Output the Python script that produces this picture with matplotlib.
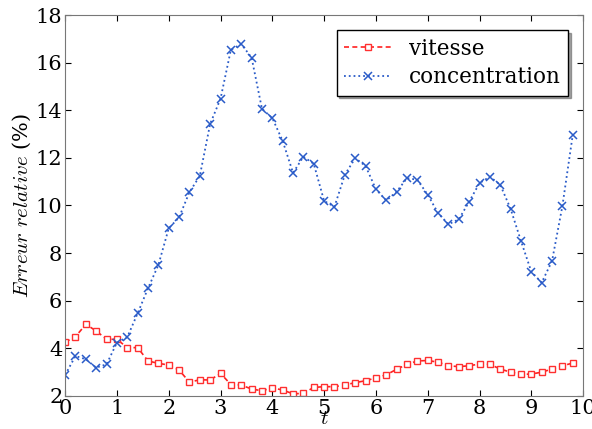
import numpy as np
import matplotlib
matplotlib.use("Agg")
import matplotlib.pyplot as plt

# time grid (dt = 0.2)
t = np.round(np.arange(50) * 0.2, 1)

vitesse = [4.26, 4.49, 5.01, 4.73, 4.38, 4.38, 4.03, 4.03, 3.47, 3.37,
           3.30, 3.09, 2.58, 2.68, 2.67, 2.95, 2.48, 2.46, 2.29, 2.22,
           2.34, 2.25, 2.09, 2.11, 2.36, 2.39, 2.39, 2.46, 2.56, 2.64,
           2.76, 2.89, 3.12, 3.33, 3.47, 3.49, 3.42, 3.27, 3.23, 3.27,
           3.34, 3.33, 3.13, 3.00, 2.91, 2.92, 3.00, 3.13, 3.27, 3.38]

concentration = [2.88, 3.68, 3.54, 3.19, 3.33, 4.24, 4.47, 5.47, 6.52, 7.50,
                 9.04, 9.50, 10.56, 11.24, 13.43, 14.48, 16.54, 16.78, 16.21, 14.06,
                 13.67, 12.71, 11.37, 12.05, 11.75, 10.19, 9.95, 11.29, 11.99, 11.66,
                 10.68, 10.21, 10.58, 11.15, 11.08, 10.45, 9.68, 9.21, 9.42, 10.16,
                 10.94, 11.21, 10.87, 9.86, 8.51, 7.22, 6.76, 7.67, 9.98, 12.97]

plt.rcParams['font.family'] = 'DejaVu Serif'
plt.rcParams['mathtext.fontset'] = 'cm'
plt.rcParams['xtick.direction'] = 'in'
plt.rcParams['ytick.direction'] = 'in'

fig = plt.figure(figsize=(5.92, 4.29), dpi=100)
ax = fig.add_axes([0.110, 0.077, 0.875, 0.888])

ax.plot(t, vitesse, '--s', color='#ff2020', mfc='white', mec='#ff3030',
        ms=5, lw=1.2, mew=1.0, dashes=(3, 2), label='vitesse')
ax.plot(t, concentration, ':x', color='#2a5bc8', ms=5.5, lw=1.3, mew=1.1,
        label='concentration')

ax.set_xlim(0, 10)
ax.set_ylim(2, 18)
ax.set_xticks(range(0, 11))
ax.set_yticks(range(2, 19, 2))
ax.tick_params(labelsize=15, top=True, right=True, length=4, pad=2)
for s in ax.spines.values():
    s.set_color('#777777')

ax.set_xlabel(r'$t$', fontsize=15, labelpad=-6)
ax.set_ylabel(r'$Erreur\ relative$ (%)', fontsize=15, labelpad=2)

leg = ax.legend(loc='upper right', fontsize=15.5, shadow=True, fancybox=False,
                handlelength=2.2, borderaxespad=0.7, borderpad=0.35,
                labelspacing=0.3)
leg.get_frame().set_edgecolor('black')

plt.savefig('out.png', dpi=100)
